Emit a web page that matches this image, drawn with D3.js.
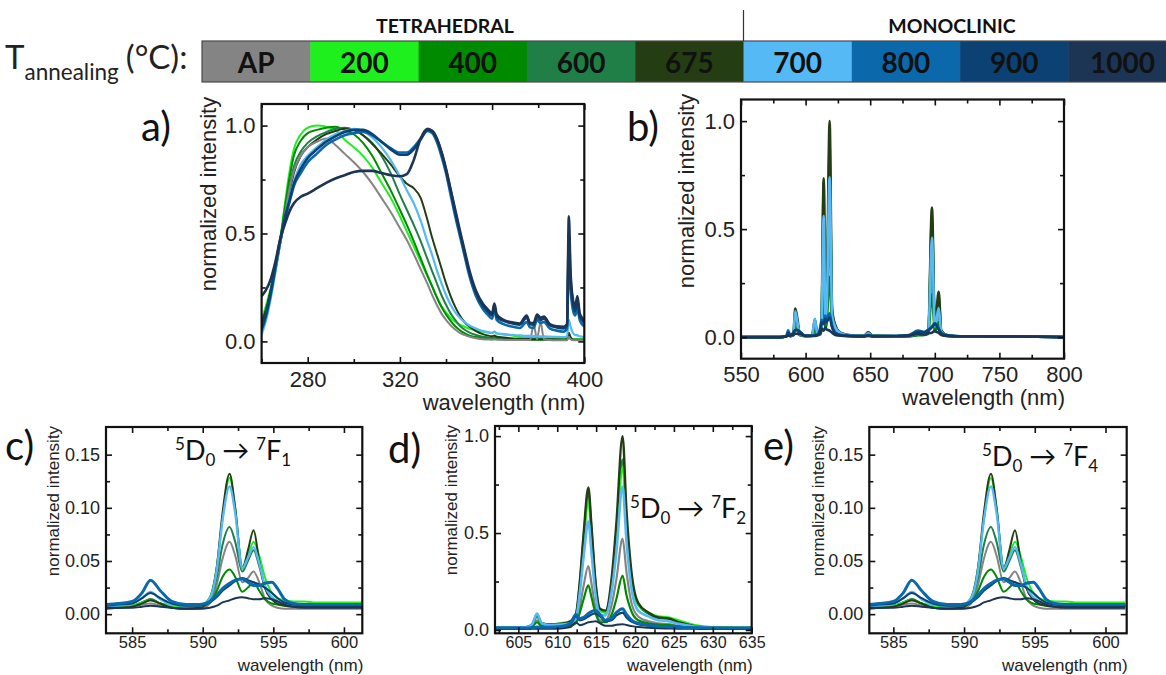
<!DOCTYPE html>
<html>
<head>
<meta charset="utf-8">
<script src="https://cdn.jsdelivr.net/npm/d3@7/dist/d3.min.js"></script>
<style>
  html, body { margin: 0; padding: 0; background: #fff; }
  svg { display: block; }
</style>
</head>
<body>
<svg id="fig" width="1166" height="675"></svg>
<script>
// ---------- annealing temperatures (legend) ----------
const tempLabels = ["AP", "200", "400", "600", "675", "700", "800", "900", "1000"];
const tempColors = ["#848484", "#1ef01e", "#008a00", "#1f7f46", "#243d13", "#55b9f5", "#0a68ab", "#0b4273", "#1d3555"];
const phaseLabels = ["TETRAHEDRAL", "MONOCLINIC"];

// ---------- a) excitation spectra ----------
const excWl = [260, 262, 264, 266, 268, 270, 272, 274, 277, 280, 284, 288, 292, 296, 300, 304, 308, 312, 316, 320,
  323, 326, 329, 332, 334, 336, 338, 340, 342, 344, 346, 348, 350, 353, 356, 358, 360, 361, 362, 365,
  368, 372, 375, 376.5, 378, 379.5, 381, 382.5, 385, 388, 391, 392.5, 393.3, 394, 395, 396, 397, 398, 399, 400];
const excAP = [0.06, 0.12, 0.22, 0.33, 0.45, 0.58, 0.70, 0.79, 0.86, 0.90, 0.925, 0.94, 0.91, 0.87, 0.83, 0.785, 0.73, 0.665, 0.60, 0.525,
  0.47, 0.405, 0.335, 0.265, 0.215, 0.17, 0.13, 0.10, 0.075, 0.055, 0.04, 0.03, 0.022, 0.015, 0.01, 0.009, 0.008, 0.009, 0.008, 0.007,
  0.006, 0.006, 0.006, 0.006, 0.08, 0.01, 0.09, 0.01, 0.006, 0.005, 0.005, 0.005, 0.02, 0.01, 0.006, 0.005, 0.005, 0.005, 0.005, 0.005];
const exc200 = [0.10, 0.17, 0.25, 0.35, 0.47, 0.63, 0.78, 0.89, 0.96, 0.99, 1.0, 0.995, 0.98, 0.935, 0.90, 0.86, 0.805, 0.735, 0.665, 0.58,
  0.51, 0.44, 0.37, 0.30, 0.255, 0.205, 0.165, 0.135, 0.11, 0.09, 0.078, 0.068, 0.06, 0.052, 0.045, 0.041, 0.038, 0.045, 0.036, 0.032,
  0.028, 0.022, 0.019, 0.018, 0.017, 0.016, 0.016, 0.015, 0.014, 0.013, 0.012, 0.012, 0.035, 0.02, 0.012, 0.01, 0.01, 0.01, 0.01, 0.01];
const exc400 = [0.08, 0.15, 0.24, 0.34, 0.46, 0.61, 0.75, 0.86, 0.93, 0.965, 0.98, 0.99, 0.995, 0.98, 0.96, 0.92, 0.86, 0.78, 0.70, 0.61,
  0.54, 0.465, 0.385, 0.305, 0.255, 0.205, 0.16, 0.125, 0.095, 0.07, 0.052, 0.038, 0.028, 0.02, 0.015, 0.013, 0.012, 0.014, 0.011, 0.01,
  0.009, 0.008, 0.008, 0.008, 0.008, 0.008, 0.008, 0.008, 0.007, 0.007, 0.006, 0.006, 0.03, 0.015, 0.006, 0.006, 0.006, 0.006, 0.006, 0.006];
const exc600 = [0.08, 0.14, 0.23, 0.33, 0.45, 0.58, 0.71, 0.81, 0.88, 0.92, 0.95, 0.97, 0.985, 0.99, 0.98, 0.955, 0.92, 0.86, 0.78, 0.68,
  0.61, 0.54, 0.465, 0.38, 0.325, 0.27, 0.215, 0.17, 0.13, 0.10, 0.072, 0.055, 0.042, 0.03, 0.022, 0.019, 0.017, 0.02, 0.016, 0.014,
  0.011, 0.011, 0.01, 0.01, 0.01, 0.01, 0.01, 0.01, 0.009, 0.009, 0.008, 0.008, 0.03, 0.015, 0.008, 0.008, 0.008, 0.008, 0.008, 0.008];
const exc675 = [0.09, 0.15, 0.24, 0.34, 0.45, 0.56, 0.68, 0.78, 0.86, 0.90, 0.935, 0.96, 0.975, 0.985, 0.98, 0.955, 0.915, 0.87, 0.82, 0.765,
  0.73, 0.71, 0.665, 0.56, 0.48, 0.41, 0.34, 0.27, 0.21, 0.16, 0.12, 0.09, 0.07, 0.048, 0.034, 0.028, 0.024, 0.027, 0.022, 0.018,
  0.015, 0.012, 0.011, 0.011, 0.01, 0.01, 0.01, 0.01, 0.01, 0.009, 0.009, 0.009, 0.04, 0.02, 0.008, 0.008, 0.008, 0.008, 0.008, 0.008];
const exc700 = [0.03, 0.10, 0.20, 0.32, 0.45, 0.56, 0.66, 0.74, 0.82, 0.86, 0.90, 0.935, 0.96, 0.975, 0.985, 0.975, 0.945, 0.90, 0.84, 0.765,
  0.70, 0.64, 0.56, 0.46, 0.40, 0.33, 0.27, 0.215, 0.17, 0.135, 0.11, 0.09, 0.075, 0.06, 0.048, 0.044, 0.04, 0.045, 0.038, 0.034,
  0.031, 0.028, 0.026, 0.026, 0.025, 0.024, 0.024, 0.023, 0.022, 0.021, 0.02, 0.022, 0.10, 0.07, 0.04, 0.03, 0.028, 0.024, 0.022, 0.02];
const exc800 = [0.05, 0.12, 0.22, 0.34, 0.46, 0.56, 0.64, 0.72, 0.78, 0.83, 0.87, 0.91, 0.935, 0.955, 0.965, 0.97, 0.955, 0.925, 0.895, 0.875,
  0.875, 0.90, 0.94, 0.975, 0.965, 0.925, 0.86, 0.78, 0.68, 0.58, 0.49, 0.40, 0.31, 0.21, 0.15, 0.125, 0.105, 0.15, 0.10, 0.08,
  0.07, 0.062, 0.09, 0.065, 0.062, 0.10, 0.085, 0.09, 0.06, 0.05, 0.045, 0.06, 0.42, 0.25, 0.15, 0.12, 0.15, 0.10, 0.08, 0.07];
const exc900 = [0.06, 0.13, 0.23, 0.35, 0.47, 0.57, 0.65, 0.73, 0.80, 0.85, 0.89, 0.925, 0.95, 0.97, 0.98, 0.98, 0.96, 0.925, 0.89, 0.865,
  0.865, 0.89, 0.935, 0.98, 0.975, 0.94, 0.875, 0.795, 0.70, 0.60, 0.505, 0.415, 0.325, 0.225, 0.165, 0.14, 0.12, 0.165, 0.115, 0.095,
  0.085, 0.078, 0.11, 0.08, 0.078, 0.115, 0.10, 0.105, 0.075, 0.065, 0.06, 0.075, 0.50, 0.30, 0.18, 0.14, 0.19, 0.12, 0.10, 0.085];
const exc1000 = [0.21, 0.24, 0.29, 0.37, 0.47, 0.54, 0.60, 0.64, 0.67, 0.685, 0.71, 0.735, 0.755, 0.77, 0.785, 0.79, 0.79, 0.78, 0.77, 0.765,
  0.775, 0.84, 0.94, 0.985, 0.975, 0.94, 0.88, 0.80, 0.705, 0.61, 0.515, 0.425, 0.335, 0.235, 0.175, 0.15, 0.13, 0.175, 0.125, 0.10,
  0.09, 0.083, 0.12, 0.085, 0.085, 0.125, 0.11, 0.115, 0.08, 0.07, 0.068, 0.08, 0.58, 0.33, 0.20, 0.16, 0.21, 0.13, 0.11, 0.09];

// ---------- b) emission spectra ----------
const emWl = [550, 580, 585, 586.5, 588, 590.5, 592, 593.8, 595.5, 600, 605, 607.2, 609, 611.5, 612.3, 614, 615.3, 616.3, 618.6, 620.5,
  623, 627, 635, 645, 648.5, 652, 670, 680, 687, 692, 695, 697.8, 700, 701, 703, 705, 710, 720, 765, 800];
const emAP = [0, 0, 0.003, 0.008, 0.004, 0.008, 0.068, 0.04, 0.01, 0.004, 0.005, 0.05, 0.01, 0.015, 0.04, 0.33, 0.06, 0.10, 0.47, 0.08,
  0.03, 0.012, 0.005, 0.004, 0.01, 0.004, 0.003, 0.004, 0.01, 0.012, 0.02, 0.30, 0.04, 0.06, 0.10, 0.02, 0.006, 0.002, 0.003, 0];
const em200 = [0, 0, 0.003, 0.014, 0.005, 0.012, 0.128, 0.065, 0.012, 0.006, 0.008, 0.07, 0.015, 0.02, 0.06, 0.70, 0.10, 0.14, 0.84, 0.12,
  0.05, 0.02, 0.008, 0.006, 0.02, 0.006, 0.004, 0.006, 0.015, 0.018, 0.03, 0.55, 0.06, 0.09, 0.18, 0.03, 0.008, 0.003, 0.003, 0];
const em400 = [0, 0, 0.003, 0.014, 0.005, 0.008, 0.042, 0.03, 0.008, 0.004, 0.005, 0.03, 0.008, 0.012, 0.03, 0.23, 0.04, 0.06, 0.28, 0.05,
  0.02, 0.008, 0.004, 0.003, 0.008, 0.003, 0.002, 0.003, 0.008, 0.01, 0.015, 0.20, 0.025, 0.035, 0.07, 0.012, 0.004, 0.002, 0.002, 0];
const em600 = [0, 0, 0.003, 0.014, 0.005, 0.01, 0.082, 0.063, 0.01, 0.005, 0.007, 0.07, 0.012, 0.018, 0.055, 0.72, 0.10, 0.15, 0.90, 0.12,
  0.05, 0.018, 0.007, 0.006, 0.02, 0.006, 0.004, 0.006, 0.015, 0.018, 0.03, 0.57, 0.06, 0.09, 0.19, 0.03, 0.008, 0.003, 0.003, 0];
const em675 = [0, 0, 0.003, 0.012, 0.005, 0.012, 0.132, 0.079, 0.012, 0.006, 0.008, 0.082, 0.015, 0.02, 0.07, 0.735, 0.11, 0.16, 1.0, 0.13,
  0.055, 0.02, 0.008, 0.006, 0.022, 0.006, 0.004, 0.006, 0.016, 0.02, 0.035, 0.60, 0.065, 0.10, 0.21, 0.03, 0.008, 0.003, 0.003, 0];
const em700 = [0, 0, 0.004, 0.02, 0.006, 0.012, 0.12, 0.063, 0.012, 0.006, 0.008, 0.085, 0.015, 0.02, 0.06, 0.56, 0.09, 0.13, 0.74, 0.10,
  0.045, 0.018, 0.007, 0.005, 0.018, 0.005, 0.004, 0.006, 0.015, 0.018, 0.03, 0.46, 0.05, 0.07, 0.135, 0.025, 0.008, 0.003, 0.003, 0];
const em800 = [0, 0, 0.005, 0.032, 0.01, 0.02, 0.033, 0.03, 0.025, 0.006, 0.006, 0.01, 0.012, 0.05, 0.08, 0.07, 0.10, 0.08, 0.11, 0.05,
  0.02, 0.01, 0.006, 0.005, 0.01, 0.005, 0.006, 0.01, 0.03, 0.025, 0.035, 0.05, 0.065, 0.06, 0.04, 0.02, 0.008, 0.004, 0.004, 0];
const em900 = [0, 0, 0.004, 0.02, 0.01, 0.02, 0.033, 0.033, 0.025, 0.006, 0.006, 0.008, 0.01, 0.04, 0.07, 0.06, 0.085, 0.07, 0.09, 0.045,
  0.018, 0.009, 0.005, 0.004, 0.008, 0.004, 0.005, 0.008, 0.025, 0.022, 0.03, 0.045, 0.06, 0.055, 0.035, 0.018, 0.007, 0.004, 0.003, 0];
const em1000 = [0, 0, 0.003, 0.006, 0.006, 0.01, 0.016, 0.015, 0.014, 0.005, 0.005, 0.005, 0.008, 0.02, 0.04, 0.03, 0.045, 0.035, 0.03, 0.02,
  0.01, 0.006, 0.004, 0.003, 0.005, 0.003, 0.004, 0.006, 0.015, 0.012, 0.018, 0.02, 0.03, 0.025, 0.02, 0.01, 0.005, 0.003, 0.003, 0];

// ---------- c), e) 5D0 -> 7F1 region ----------
const f1Wl = [583.2, 584, 585, 585.7, 586.3, 587, 587.8, 588.8, 589.8, 590.5, 591, 591.4, 591.9, 592.3, 592.8, 593.2, 593.6, 594, 594.4, 594.9,
  595.3, 595.8, 596.4, 597.2, 598, 599, 600, 601.4];
const f1AP = [0.006, 0.006, 0.007, 0.009, 0.01, 0.008, 0.006, 0.005, 0.005, 0.01, 0.028, 0.052, 0.068, 0.055, 0.03, 0.034, 0.04, 0.03, 0.015, 0.008,
  0.006, 0.005, 0.005, 0.005, 0.005, 0.005, 0.005, 0.005];
const f1T200 = [0.007, 0.008, 0.008, 0.011, 0.013, 0.01, 0.008, 0.007, 0.008, 0.016, 0.045, 0.09, 0.128, 0.10, 0.045, 0.055, 0.068, 0.055, 0.035, 0.02,
  0.015, 0.013, 0.012, 0.012, 0.011, 0.011, 0.011, 0.011];
const f1T400 = [0.007, 0.008, 0.008, 0.011, 0.014, 0.01, 0.007, 0.006, 0.007, 0.011, 0.022, 0.035, 0.042, 0.035, 0.021, 0.025, 0.03, 0.022, 0.014, 0.01,
  0.009, 0.008, 0.008, 0.008, 0.008, 0.008, 0.008, 0.008];
const f1T600 = [0.007, 0.007, 0.008, 0.011, 0.014, 0.01, 0.007, 0.006, 0.007, 0.014, 0.035, 0.065, 0.082, 0.068, 0.04, 0.05, 0.06, 0.045, 0.025, 0.014,
  0.01, 0.009, 0.008, 0.008, 0.008, 0.008, 0.008, 0.008];
const f1T675 = [0.005, 0.006, 0.007, 0.01, 0.013, 0.01, 0.006, 0.005, 0.006, 0.015, 0.045, 0.095, 0.132, 0.10, 0.043, 0.06, 0.079, 0.05, 0.025, 0.014,
  0.01, 0.008, 0.007, 0.007, 0.007, 0.007, 0.007, 0.007];
const f1T700 = [0.007, 0.008, 0.01, 0.015, 0.021, 0.014, 0.009, 0.008, 0.008, 0.015, 0.042, 0.088, 0.12, 0.095, 0.043, 0.053, 0.063, 0.048, 0.027, 0.016,
  0.012, 0.01, 0.009, 0.009, 0.009, 0.009, 0.009, 0.009];
const f1T800 = [0.009, 0.01, 0.012, 0.02, 0.032, 0.022, 0.012, 0.009, 0.009, 0.012, 0.018, 0.024, 0.029, 0.032, 0.033, 0.03, 0.027, 0.027, 0.029, 0.03,
  0.024, 0.014, 0.01, 0.009, 0.009, 0.009, 0.009, 0.009];
const f1T900 = [0.008, 0.009, 0.01, 0.015, 0.02, 0.015, 0.01, 0.008, 0.008, 0.011, 0.016, 0.022, 0.027, 0.031, 0.034, 0.032, 0.03, 0.028, 0.025, 0.02,
  0.015, 0.011, 0.009, 0.008, 0.008, 0.008, 0.008, 0.008];
const f1T1000 = [0.006, 0.006, 0.006, 0.007, 0.008, 0.007, 0.006, 0.005, 0.005, 0.006, 0.008, 0.011, 0.013, 0.015, 0.016, 0.015, 0.014, 0.014, 0.015, 0.014,
  0.012, 0.009, 0.007, 0.006, 0.006, 0.006, 0.006, 0.006];

// ---------- d) 5D0 -> 7F2 region ----------
const f2Wl = [602, 604, 606, 606.8, 607.4, 608, 609, 610.5, 611.7, 612.4, 612.9, 613.4, 614, 614.4, 614.9, 615.5, 616.2, 617, 617.6, 618.4,
  618.9, 619.6, 620.4, 621.7, 623, 624.3, 625.6, 627.7, 630, 635];
const f2AP = [0.01, 0.01, 0.011, 0.02, 0.05, 0.022, 0.018, 0.02, 0.025, 0.04, 0.12, 0.23, 0.33, 0.24, 0.12, 0.05, 0.05, 0.13, 0.26, 0.47,
  0.30, 0.13, 0.07, 0.045, 0.035, 0.03, 0.022, 0.014, 0.01, 0.008];
const f2T200 = [0.013, 0.013, 0.015, 0.03, 0.075, 0.035, 0.03, 0.035, 0.045, 0.07, 0.22, 0.45, 0.66, 0.48, 0.23, 0.10, 0.09, 0.22, 0.45, 0.84,
  0.52, 0.24, 0.13, 0.09, 0.07, 0.065, 0.05, 0.025, 0.015, 0.012];
const f2T400 = [0.01, 0.01, 0.011, 0.018, 0.04, 0.02, 0.016, 0.018, 0.022, 0.035, 0.09, 0.16, 0.23, 0.17, 0.09, 0.04, 0.04, 0.08, 0.16, 0.28,
  0.18, 0.09, 0.05, 0.035, 0.028, 0.025, 0.02, 0.013, 0.01, 0.008];
const f2T600 = [0.012, 0.012, 0.013, 0.028, 0.07, 0.032, 0.027, 0.03, 0.04, 0.075, 0.24, 0.48, 0.71, 0.52, 0.25, 0.10, 0.09, 0.24, 0.48, 0.88,
  0.55, 0.25, 0.13, 0.085, 0.062, 0.058, 0.04, 0.02, 0.012, 0.01];
const f2T675 = [0.012, 0.012, 0.014, 0.03, 0.08, 0.035, 0.028, 0.032, 0.045, 0.08, 0.25, 0.50, 0.735, 0.54, 0.26, 0.11, 0.10, 0.27, 0.55, 1.0,
  0.62, 0.28, 0.14, 0.09, 0.065, 0.06, 0.04, 0.02, 0.012, 0.01];
const f2T700 = [0.012, 0.012, 0.014, 0.03, 0.085, 0.035, 0.026, 0.028, 0.035, 0.06, 0.19, 0.38, 0.56, 0.40, 0.19, 0.08, 0.075, 0.20, 0.40, 0.74,
  0.46, 0.20, 0.10, 0.07, 0.05, 0.045, 0.032, 0.018, 0.012, 0.01];
const f2T800 = [0.01, 0.01, 0.01, 0.012, 0.015, 0.014, 0.014, 0.018, 0.035, 0.08, 0.058, 0.065, 0.085, 0.095, 0.10, 0.08, 0.05, 0.06, 0.09, 0.11,
  0.08, 0.05, 0.035, 0.025, 0.02, 0.017, 0.014, 0.012, 0.01, 0.01];
const f2T900 = [0.009, 0.009, 0.009, 0.011, 0.013, 0.012, 0.012, 0.015, 0.03, 0.07, 0.05, 0.055, 0.07, 0.08, 0.085, 0.07, 0.045, 0.05, 0.075, 0.09,
  0.065, 0.042, 0.03, 0.022, 0.018, 0.015, 0.013, 0.011, 0.009, 0.009];
const f2T1000 = [0.005, 0.005, 0.005, 0.006, 0.007, 0.006, 0.006, 0.008, 0.015, 0.04, 0.025, 0.03, 0.04, 0.042, 0.045, 0.035, 0.022, 0.022, 0.027, 0.03,
  0.026, 0.02, 0.015, 0.011, 0.009, 0.008, 0.007, 0.006, 0.005, 0.005];

// ---------- tick values ----------
const ticksA = { xMajor: [280, 320, 360, 400], xMinor: [260, 300, 340, 380], yMajor: [0, 0.5, 1.0], yMinor: [0.25, 0.75] };
const ticksB = { xMajor: [550, 600, 650, 700, 750, 800], xMinor: [575, 625, 675, 725, 775], yMajor: [0, 0.5, 1.0], yMinor: [0.25, 0.75] };
const ticksF1 = { xMajor: [585, 590, 595, 600], xMinor: [587.5, 592.5, 597.5], yMajor: [0, 0.05, 0.10, 0.15], yMinor: [0.025, 0.075, 0.125] };
const ticksF2 = { xMajor: [605, 610, 615, 620, 625, 630, 635], xMinor: [602.5, 607.5, 612.5, 617.5, 622.5, 627.5, 632.5], yMajor: [0, 0.5, 1.0], yMinor: [0.25, 0.75] };

const xTitle = "wavelength (nm)";
const yTitle = "normalized intensity";

// ================= drawing =================
const svg = d3.select("#fig");
const tickFont = "'Liberation Sans', Arial, sans-serif";
const calFont = "Lato, 'Open Sans', sans-serif";

// ---- legend bar ----
const legend = svg.append("g");
const band = d3.scaleBand().domain(tempLabels).range([202, 202 + 9 * 108.3]);
const barTop = 41, barH = 41;
legend.selectAll("rect.box").data(tempLabels).join("rect")
  .attr("class", "box")
  .attr("x", d => band(d)).attr("y", barTop)
  .attr("width", band.bandwidth() + 0.5).attr("height", barH)
  .attr("fill", (d, i) => tempColors[i]);
legend.append("rect").attr("x", 202).attr("y", barTop).attr("width", 9 * 108.3).attr("height", barH)
  .attr("fill", "none").attr("stroke", "#4a4a4a").attr("stroke-width", 1.2);
legend.selectAll("text.tl").data(tempLabels).join("text")
  .attr("class", "tl")
  .attr("x", d => band(d) + band.bandwidth() / 2).attr("y", 73)
  .attr("text-anchor", "middle")
  .attr("font-family", calFont).attr("font-weight", 700).attr("font-size", 28)
  .attr("fill", "#111").text(d => d);
// tetrahedral / monoclinic divider
legend.append("line").attr("x1", band("700")).attr("x2", band("700")).attr("y1", 10).attr("y2", barTop)
  .attr("stroke", "#333").attr("stroke-width", 1.2);
legend.append("text").attr("x", 445).attr("y", 33).attr("text-anchor", "middle")
  .attr("font-family", calFont).attr("font-weight", 700).attr("font-size", 19.5).attr("fill", "#111").text(phaseLabels[0]);
legend.append("text").attr("x", 952).attr("y", 33).attr("text-anchor", "middle")
  .attr("font-family", calFont).attr("font-weight", 700).attr("font-size", 19.5).attr("fill", "#111").text(phaseLabels[1]);
// T_annealing (°C):
const tt = legend.append("text").attr("x", 5).attr("y", 69)
  .attr("font-family", calFont).attr("font-size", 33).attr("fill", "#222");
tt.append("tspan").text("T");
tt.append("tspan").attr("font-size", 22.5).attr("dy", 11).text("annealing");
tt.append("tspan").attr("dy", -11).attr("dx", 7).text("(°C):");

// ---- generic panel ----
function drawPanel(p) {
  const g = svg.append("g");
  const x = d3.scaleLinear().domain(p.xDomain).range([p.left, p.right]);
  const y = d3.scaleLinear().domain(p.yDomain).range([p.bottom, p.top]);
  const clipId = "clip-" + p.id;
  svg.append("clipPath").attr("id", clipId).append("rect")
    .attr("x", p.left).attr("y", p.top).attr("width", p.right - p.left).attr("height", p.bottom - p.top);

  const line = d3.line()
    .x((d, i) => x(p.xs[i]))
    .y(d => y(d))
    .curve(d3.curveMonotoneX);
  const lines = g.append("g").attr("clip-path", `url(#${clipId})`);
  p.order.forEach(k => {
    lines.append("path")
      .attr("d", line(p.series[k]))
      .attr("fill", "none")
      .attr("stroke", tempColors[k])
      .attr("stroke-width", p.widths[k])
      .attr("stroke-linejoin", "round");
  });

  const t = p.ticks;
  const axes = [
    { gen: d3.axisBottom, sc: x, pos: `translate(0,${p.bottom})`, maj: t.xMajor, min: t.xMinor, lab: true, fmt: p.xFmt, pad: p.xPad },
    { gen: d3.axisTop, sc: x, pos: `translate(0,${p.top})`, maj: t.xMajor, min: t.xMinor, lab: false },
    { gen: d3.axisLeft, sc: y, pos: `translate(${p.left},0)`, maj: t.yMajor, min: t.yMinor, lab: true, fmt: p.yFmt, pad: p.yPad },
    { gen: d3.axisRight, sc: y, pos: `translate(${p.right},0)`, maj: t.yMajor, min: t.yMinor, lab: false }
  ];
  axes.forEach(a => {
    const major = g.append("g").attr("transform", a.pos)
      .call(a.gen(a.sc).tickValues(a.maj).tickSize(-6).tickPadding(a.pad || 4)
        .tickFormat(a.lab ? d3.format(a.fmt) : () => ""));
    const minor = g.append("g").attr("transform", a.pos)
      .call(a.gen(a.sc).tickValues(a.min).tickSize(-4).tickFormat(() => ""));
    [major, minor].forEach(s => {
      s.select(".domain").remove();
      s.selectAll(".tick line").attr("stroke", "#111").attr("stroke-width", 1.6);
      s.selectAll(".tick text").attr("font-family", tickFont).attr("font-size", a.sc === x ? p.xFont : p.yFont).attr("fill", "#222");
    });
  });

  g.append("rect").attr("x", p.left).attr("y", p.top)
    .attr("width", p.right - p.left).attr("height", p.bottom - p.top)
    .attr("fill", "none").attr("stroke", "#111").attr("stroke-width", 2.2);

  // axis titles
  g.append("text").attr("x", p.right + 1).attr("y", p.xTitleY).attr("text-anchor", "end")
    .attr("font-family", tickFont).attr("font-size", p.titleFont).attr("fill", "#222").text(xTitle);
  g.append("text").attr("transform", `translate(${p.yTitleX},${p.yTitleY}) rotate(-90)`).attr("text-anchor", "middle")
    .attr("font-family", tickFont).attr("font-size", p.titleFont).attr("fill", "#222").text(yTitle);

  // panel letter
  g.append("text").attr("x", p.labelX).attr("y", p.labelY)
    .attr("font-family", calFont).attr("font-size", 40).attr("fill", "#111").text(p.label);

  // transition annotation
  if (p.trans) {
    const tr = g.append("text").attr("x", p.trans.x).attr("y", p.trans.y)
      .attr("font-family", calFont).attr("font-size", 27).attr("fill", "#111");
    tr.append("tspan").attr("font-size", 17).attr("dy", -10).text("5");
    tr.append("tspan").attr("dy", 10).text("D");
    tr.append("tspan").attr("font-size", 17).attr("dy", 6).text("0");
    tr.append("tspan").attr("dy", -6).text(" \u2192 ");
    tr.append("tspan").attr("font-size", 17).attr("dy", -10).text("7");
    tr.append("tspan").attr("dy", 10).text("F");
    tr.append("tspan").attr("font-size", 17).attr("dy", 6).text(p.trans.j);
  }
}

drawPanel({
  id: "a", left: 261.6, right: 584.3, top: 104, bottom: 363,
  xDomain: [260, 400], yDomain: [-0.1, 1.1], ticks: ticksA,
  xs: excWl, series: [excAP, exc200, exc400, exc600, exc675, exc700, exc800, exc900, exc1000],
  order: [1, 2, 3, 4, 0, 5, 6, 7, 8], widths: [2, 2, 2, 2, 2, 2.2, 2.6, 2.6, 2.6],
  xFmt: "d", yFmt: ".1f", xPad: 8, yPad: 6, xFont: 22, yFont: 22, titleFont: 22,
  xTitleY: 410, yTitleX: 216, yTitleY: 194, label: "a)", labelX: 141, labelY: 141
});

drawPanel({
  id: "b", left: 741, right: 1064, top: 99.5, bottom: 358.7,
  xDomain: [550, 800], yDomain: [-0.1, 1.1], ticks: ticksB,
  xs: emWl, series: [emAP, em200, em400, em600, em675, em700, em800, em900, em1000],
  order: [0, 1, 2, 3, 4, 5, 6, 7, 8], widths: [2.4, 2.4, 2.4, 2.4, 2.6, 2.6, 2.6, 2.6, 2.6],
  xFmt: "d", yFmt: ".1f", xPad: 8, yPad: 6, xFont: 22, yFont: 22, titleFont: 22,
  xTitleY: 405, yTitleX: 694, yTitleY: 191, label: "b)", labelX: 627, labelY: 141
});

drawPanel({
  id: "c", left: 106, right: 362.3, top: 427, bottom: 633.3,
  xDomain: [583.15, 601.3], yDomain: [-0.018, 0.176], ticks: ticksF1,
  xs: f1Wl, series: [f1AP, f1T200, f1T400, f1T600, f1T675, f1T700, f1T800, f1T900, f1T1000],
  order: [0, 2, 3, 1, 4, 5, 7, 8, 6], widths: [2, 2, 2, 2, 2, 2.4, 3, 2, 2],
  xFmt: "d", yFmt: ".2f", xPad: 3, yPad: 6, xFont: 16.5, yFont: 18, titleFont: 17,
  xTitleY: 671, yTitleX: 59, yTitleY: 501, label: "c)", labelX: 5, labelY: 460,
  trans: { x: 175, y: 460, j: "1" }
});

drawPanel({
  id: "d", left: 495, right: 751.7, top: 426, bottom: 633.3,
  xDomain: [602, 635], yDomain: [-0.017, 1.052], ticks: ticksF2,
  xs: f2Wl, series: [f2AP, f2T200, f2T400, f2T600, f2T675, f2T700, f2T800, f2T900, f2T1000],
  order: [0, 2, 3, 1, 4, 5, 7, 8, 6], widths: [2.2, 2.2, 2.2, 2.2, 2.4, 2.6, 3, 2.2, 2],
  xFmt: "d", yFmt: ".1f", xPad: 3, yPad: 6, xFont: 16, yFont: 18, titleFont: 17,
  xTitleY: 671, yTitleX: 457, yTitleY: 500, label: "d)", labelX: 388, labelY: 463,
  trans: { x: 630, y: 518, j: "2" }
});

drawPanel({
  id: "e", left: 869.3, right: 1126.7, top: 427, bottom: 633.3,
  xDomain: [583.3, 601.5], yDomain: [-0.018, 0.176], ticks: ticksF1,
  xs: f1Wl, series: [f1AP, f1T200, f1T400, f1T600, f1T675, f1T700, f1T800, f1T900, f1T1000],
  order: [0, 2, 3, 1, 4, 5, 7, 8, 6], widths: [2, 2, 2, 2, 2, 2.4, 3, 2, 2],
  xFmt: "d", yFmt: ".2f", xPad: 3, yPad: 6, xFont: 16.5, yFont: 18, titleFont: 17,
  xTitleY: 671, yTitleX: 824, yTitleY: 501, label: "e)", labelX: 763, labelY: 460,
  trans: { x: 982, y: 466, j: "4" }
});
</script>
</body>
</html>
